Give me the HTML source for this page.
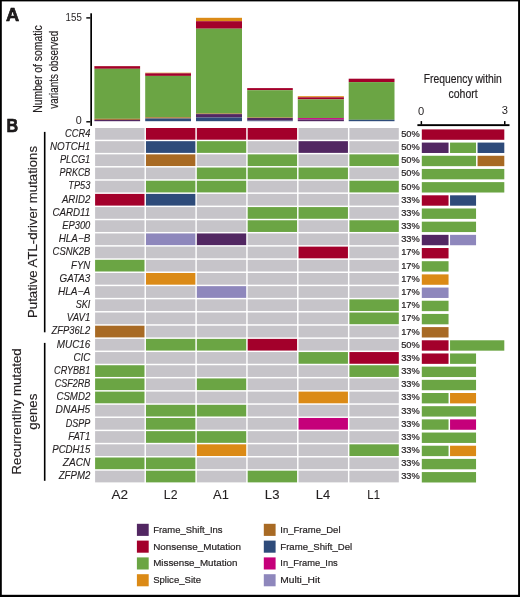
<!DOCTYPE html><html><head><meta charset="utf-8"><style>html,body{margin:0;padding:0;background:#fff;}svg{display:block;will-change:transform;}text{font-family:"Liberation Sans",sans-serif;fill:#231f20;}</style></head><body>
<svg width="520" height="597" viewBox="0 0 520 597">
<rect x="0" y="0" width="520" height="597" fill="#fff"/>
<text x="5.90" y="20.60" font-size="18.4" textLength="13.20" lengthAdjust="spacingAndGlyphs" font-weight="bold" fill="#000" stroke="#000" stroke-width="0.6">A</text>
<text x="6.50" y="131.60" font-size="18.4" textLength="11.60" lengthAdjust="spacingAndGlyphs" font-weight="bold" fill="#000" stroke="#000" stroke-width="0.6">B</text>
<rect x="90.30" y="13.30" width="1.70" height="112.60" fill="#000"/>
<rect x="86.30" y="17.20" width="4.00" height="1.40" fill="#000"/>
<rect x="86.30" y="121.10" width="4.00" height="1.40" fill="#000"/>
<text x="65.60" y="21.00" font-size="10.5" textLength="16.20" lengthAdjust="spacingAndGlyphs" >155</text>
<text x="75.70" y="124.40" font-size="10.5" textLength="6.00" lengthAdjust="spacingAndGlyphs" >0</text>
<g transform="translate(42.1,69) rotate(-90)">
<text x="-43.70" y="0.00" font-size="12.6" textLength="87.40" lengthAdjust="spacingAndGlyphs" stroke="#231f20" stroke-width="0.2">Number of somatic</text>
</g>
<g transform="translate(58.0,69.85) rotate(-90)">
<text x="-38.90" y="0.00" font-size="12.6" textLength="77.90" lengthAdjust="spacingAndGlyphs" stroke="#231f20" stroke-width="0.2">variants observed</text>
</g>
<rect x="94.40" y="66.00" width="45.70" height="0.30" fill="#db8a16"/>
<rect x="94.40" y="66.20" width="45.70" height="2.60" fill="#a3002b"/>
<rect x="94.40" y="68.80" width="45.70" height="50.00" fill="#6ba544"/>
<rect x="94.40" y="118.80" width="45.70" height="1.10" fill="#a86a24"/>
<rect x="94.40" y="119.90" width="45.70" height="1.30" fill="#522762"/>
<rect x="145.20" y="72.70" width="45.80" height="0.60" fill="#db8a16"/>
<rect x="145.20" y="73.30" width="45.80" height="2.60" fill="#a3002b"/>
<rect x="145.20" y="75.90" width="45.80" height="41.40" fill="#6ba544"/>
<rect x="145.20" y="117.30" width="45.80" height="1.20" fill="#a86a24"/>
<rect x="145.20" y="118.50" width="45.80" height="2.70" fill="#2e4b7a"/>
<rect x="196.00" y="17.80" width="46.00" height="3.40" fill="#db8a16"/>
<rect x="196.00" y="21.20" width="46.00" height="7.50" fill="#a3002b"/>
<rect x="196.00" y="28.70" width="46.00" height="84.80" fill="#6ba544"/>
<rect x="196.00" y="113.50" width="46.00" height="0.60" fill="#a86a24"/>
<rect x="196.00" y="114.10" width="46.00" height="3.40" fill="#522762"/>
<rect x="196.00" y="117.50" width="46.00" height="3.70" fill="#2e4b7a"/>
<rect x="247.20" y="88.10" width="45.60" height="2.10" fill="#a3002b"/>
<rect x="247.20" y="90.20" width="45.60" height="27.30" fill="#6ba544"/>
<rect x="247.20" y="117.50" width="45.60" height="0.50" fill="#a86a24"/>
<rect x="247.20" y="118.00" width="45.60" height="2.60" fill="#522762"/>
<rect x="247.20" y="120.60" width="45.60" height="0.60" fill="#2e4b7a"/>
<rect x="297.80" y="96.20" width="46.10" height="1.10" fill="#db8a16"/>
<rect x="297.80" y="97.30" width="46.10" height="2.10" fill="#a3002b"/>
<rect x="297.80" y="99.40" width="46.10" height="18.70" fill="#6ba544"/>
<rect x="297.80" y="118.10" width="46.10" height="1.40" fill="#c5007a"/>
<rect x="297.80" y="119.50" width="46.10" height="1.70" fill="#522762"/>
<rect x="348.70" y="78.70" width="45.80" height="3.40" fill="#a3002b"/>
<rect x="348.70" y="82.10" width="45.80" height="37.70" fill="#6ba544"/>
<rect x="348.70" y="119.80" width="45.80" height="1.40" fill="#2e4b7a"/>
<text x="423.80" y="82.80" font-size="12.6" textLength="78.00" lengthAdjust="spacingAndGlyphs" stroke="#231f20" stroke-width="0.2">Frequency within</text>
<text x="448.50" y="98.10" font-size="12.6" textLength="29.20" lengthAdjust="spacingAndGlyphs" stroke="#231f20" stroke-width="0.2">cohort</text>
<text x="418.00" y="114.60" font-size="10.0" textLength="6.20" lengthAdjust="spacingAndGlyphs" >0</text>
<text x="501.80" y="114.10" font-size="10.0" textLength="6.20" lengthAdjust="spacingAndGlyphs" >3</text>
<rect x="417.40" y="124.20" width="92.10" height="1.90" fill="#000"/>
<rect x="420.60" y="121.10" width="1.50" height="3.50" fill="#000"/>
<rect x="504.00" y="121.10" width="1.50" height="3.50" fill="#000"/>
<rect x="43.90" y="131.90" width="1.60" height="200.40" fill="#000"/>
<rect x="43.90" y="342.90" width="1.60" height="137.90" fill="#000"/>
<g transform="translate(37.4,232.0) rotate(-90)">
<text x="-86.00" y="0.00" font-size="13.6" textLength="172.00" lengthAdjust="spacingAndGlyphs" stroke="#231f20" stroke-width="0.15">Putative ATL-driver mutations</text>
</g>
<g transform="translate(21.4,411.4) rotate(-90)">
<text x="-63.00" y="0.00" font-size="13.6" textLength="126.00" lengthAdjust="spacingAndGlyphs" stroke="#231f20" stroke-width="0.15">Recurrentlhy mutated</text>
</g>
<g transform="translate(37.3,411.7) rotate(-90)">
<text x="-18.00" y="0.00" font-size="13.6" textLength="36.00" lengthAdjust="spacingAndGlyphs" stroke="#231f20" stroke-width="0.15">genes</text>
</g>
<rect x="95.10" y="128.00" width="49.40" height="11.70" fill="#c6c4c9"/>
<rect x="145.96" y="128.00" width="49.40" height="11.70" fill="#a3002b"/>
<rect x="196.82" y="128.00" width="49.40" height="11.70" fill="#a3002b"/>
<rect x="247.68" y="128.00" width="49.40" height="11.70" fill="#a3002b"/>
<rect x="298.54" y="128.00" width="49.40" height="11.70" fill="#c6c4c9"/>
<rect x="349.40" y="128.00" width="49.40" height="11.70" fill="#c6c4c9"/>
<text x="65.10" y="136.70" font-size="10.3" textLength="25.20" lengthAdjust="spacingAndGlyphs" font-style="italic" stroke="#231f20" stroke-width="0.12">CCR4</text>
<text x="401.20" y="136.80" font-size="9.4" textLength="18.60" lengthAdjust="spacingAndGlyphs" stroke="#231f20" stroke-width="0.22">50%</text>
<rect x="421.80" y="129.40" width="82.50" height="10.40" fill="#a3002b"/>
<rect x="95.10" y="141.18" width="49.40" height="11.70" fill="#c6c4c9"/>
<rect x="145.96" y="141.18" width="49.40" height="11.70" fill="#2e4b7a"/>
<rect x="196.82" y="141.18" width="49.40" height="11.70" fill="#6ba544"/>
<rect x="247.68" y="141.18" width="49.40" height="11.70" fill="#c6c4c9"/>
<rect x="298.54" y="141.18" width="49.40" height="11.70" fill="#522762"/>
<rect x="349.40" y="141.18" width="49.40" height="11.70" fill="#c6c4c9"/>
<text x="49.90" y="149.88" font-size="10.3" textLength="40.40" lengthAdjust="spacingAndGlyphs" font-style="italic" stroke="#231f20" stroke-width="0.12">NOTCH1</text>
<text x="401.20" y="149.98" font-size="9.4" textLength="18.60" lengthAdjust="spacingAndGlyphs" stroke="#231f20" stroke-width="0.22">50%</text>
<rect x="421.80" y="142.58" width="26.75" height="10.40" fill="#522762"/>
<rect x="450.05" y="142.58" width="26.00" height="10.40" fill="#6ba544"/>
<rect x="477.55" y="142.58" width="26.75" height="10.40" fill="#2e4b7a"/>
<rect x="95.10" y="154.36" width="49.40" height="11.70" fill="#c6c4c9"/>
<rect x="145.96" y="154.36" width="49.40" height="11.70" fill="#a86a24"/>
<rect x="196.82" y="154.36" width="49.40" height="11.70" fill="#c6c4c9"/>
<rect x="247.68" y="154.36" width="49.40" height="11.70" fill="#6ba544"/>
<rect x="298.54" y="154.36" width="49.40" height="11.70" fill="#c6c4c9"/>
<rect x="349.40" y="154.36" width="49.40" height="11.70" fill="#6ba544"/>
<text x="59.90" y="163.06" font-size="10.3" textLength="30.40" lengthAdjust="spacingAndGlyphs" font-style="italic" stroke="#231f20" stroke-width="0.12">PLCG1</text>
<text x="401.20" y="163.16" font-size="9.4" textLength="18.60" lengthAdjust="spacingAndGlyphs" stroke="#231f20" stroke-width="0.22">50%</text>
<rect x="421.80" y="155.76" width="54.25" height="10.40" fill="#6ba544"/>
<rect x="477.55" y="155.76" width="26.75" height="10.40" fill="#a86a24"/>
<rect x="95.10" y="167.54" width="49.40" height="11.70" fill="#c6c4c9"/>
<rect x="145.96" y="167.54" width="49.40" height="11.70" fill="#c6c4c9"/>
<rect x="196.82" y="167.54" width="49.40" height="11.70" fill="#6ba544"/>
<rect x="247.68" y="167.54" width="49.40" height="11.70" fill="#6ba544"/>
<rect x="298.54" y="167.54" width="49.40" height="11.70" fill="#6ba544"/>
<rect x="349.40" y="167.54" width="49.40" height="11.70" fill="#c6c4c9"/>
<text x="59.50" y="176.24" font-size="10.3" textLength="30.80" lengthAdjust="spacingAndGlyphs" font-style="italic" stroke="#231f20" stroke-width="0.12">PRKCB</text>
<text x="401.20" y="176.34" font-size="9.4" textLength="18.60" lengthAdjust="spacingAndGlyphs" stroke="#231f20" stroke-width="0.22">50%</text>
<rect x="421.80" y="168.94" width="82.50" height="10.40" fill="#6ba544"/>
<rect x="95.10" y="180.72" width="49.40" height="11.70" fill="#c6c4c9"/>
<rect x="145.96" y="180.72" width="49.40" height="11.70" fill="#6ba544"/>
<rect x="196.82" y="180.72" width="49.40" height="11.70" fill="#6ba544"/>
<rect x="247.68" y="180.72" width="49.40" height="11.70" fill="#c6c4c9"/>
<rect x="298.54" y="180.72" width="49.40" height="11.70" fill="#c6c4c9"/>
<rect x="349.40" y="180.72" width="49.40" height="11.70" fill="#6ba544"/>
<text x="68.30" y="189.42" font-size="10.3" textLength="22.00" lengthAdjust="spacingAndGlyphs" font-style="italic" stroke="#231f20" stroke-width="0.12">TP53</text>
<text x="401.20" y="189.52" font-size="9.4" textLength="18.60" lengthAdjust="spacingAndGlyphs" stroke="#231f20" stroke-width="0.22">50%</text>
<rect x="421.80" y="182.12" width="82.50" height="10.40" fill="#6ba544"/>
<rect x="95.10" y="193.90" width="49.40" height="11.70" fill="#a3002b"/>
<rect x="145.96" y="193.90" width="49.40" height="11.70" fill="#2e4b7a"/>
<rect x="196.82" y="193.90" width="49.40" height="11.70" fill="#c6c4c9"/>
<rect x="247.68" y="193.90" width="49.40" height="11.70" fill="#c6c4c9"/>
<rect x="298.54" y="193.90" width="49.40" height="11.70" fill="#c6c4c9"/>
<rect x="349.40" y="193.90" width="49.40" height="11.70" fill="#c6c4c9"/>
<text x="61.90" y="202.60" font-size="10.3" textLength="28.40" lengthAdjust="spacingAndGlyphs" font-style="italic" stroke="#231f20" stroke-width="0.12">ARID2</text>
<text x="401.20" y="202.70" font-size="9.4" textLength="18.60" lengthAdjust="spacingAndGlyphs" stroke="#231f20" stroke-width="0.22">33%</text>
<rect x="421.80" y="195.30" width="26.75" height="10.40" fill="#a3002b"/>
<rect x="450.05" y="195.30" width="26.00" height="10.40" fill="#2e4b7a"/>
<rect x="95.10" y="207.08" width="49.40" height="11.70" fill="#c6c4c9"/>
<rect x="145.96" y="207.08" width="49.40" height="11.70" fill="#c6c4c9"/>
<rect x="196.82" y="207.08" width="49.40" height="11.70" fill="#c6c4c9"/>
<rect x="247.68" y="207.08" width="49.40" height="11.70" fill="#6ba544"/>
<rect x="298.54" y="207.08" width="49.40" height="11.70" fill="#6ba544"/>
<rect x="349.40" y="207.08" width="49.40" height="11.70" fill="#c6c4c9"/>
<text x="52.40" y="215.78" font-size="10.3" textLength="37.90" lengthAdjust="spacingAndGlyphs" font-style="italic" stroke="#231f20" stroke-width="0.12">CARD11</text>
<text x="401.20" y="215.88" font-size="9.4" textLength="18.60" lengthAdjust="spacingAndGlyphs" stroke="#231f20" stroke-width="0.22">33%</text>
<rect x="421.80" y="208.48" width="54.25" height="10.40" fill="#6ba544"/>
<rect x="95.10" y="220.26" width="49.40" height="11.70" fill="#c6c4c9"/>
<rect x="145.96" y="220.26" width="49.40" height="11.70" fill="#c6c4c9"/>
<rect x="196.82" y="220.26" width="49.40" height="11.70" fill="#c6c4c9"/>
<rect x="247.68" y="220.26" width="49.40" height="11.70" fill="#6ba544"/>
<rect x="298.54" y="220.26" width="49.40" height="11.70" fill="#c6c4c9"/>
<rect x="349.40" y="220.26" width="49.40" height="11.70" fill="#6ba544"/>
<text x="62.20" y="228.96" font-size="10.3" textLength="28.10" lengthAdjust="spacingAndGlyphs" font-style="italic" stroke="#231f20" stroke-width="0.12">EP300</text>
<text x="401.20" y="229.06" font-size="9.4" textLength="18.60" lengthAdjust="spacingAndGlyphs" stroke="#231f20" stroke-width="0.22">33%</text>
<rect x="421.80" y="221.66" width="54.25" height="10.40" fill="#6ba544"/>
<rect x="95.10" y="233.44" width="49.40" height="11.70" fill="#c6c4c9"/>
<rect x="145.96" y="233.44" width="49.40" height="11.70" fill="#8e87bc"/>
<rect x="196.82" y="233.44" width="49.40" height="11.70" fill="#522762"/>
<rect x="247.68" y="233.44" width="49.40" height="11.70" fill="#c6c4c9"/>
<rect x="298.54" y="233.44" width="49.40" height="11.70" fill="#c6c4c9"/>
<rect x="349.40" y="233.44" width="49.40" height="11.70" fill="#c6c4c9"/>
<text x="58.70" y="242.14" font-size="10.3" textLength="31.60" lengthAdjust="spacingAndGlyphs" font-style="italic" stroke="#231f20" stroke-width="0.12">HLA−B</text>
<text x="401.20" y="242.24" font-size="9.4" textLength="18.60" lengthAdjust="spacingAndGlyphs" stroke="#231f20" stroke-width="0.22">33%</text>
<rect x="421.80" y="234.84" width="26.75" height="10.40" fill="#522762"/>
<rect x="450.05" y="234.84" width="26.00" height="10.40" fill="#8e87bc"/>
<rect x="95.10" y="246.62" width="49.40" height="11.70" fill="#c6c4c9"/>
<rect x="145.96" y="246.62" width="49.40" height="11.70" fill="#c6c4c9"/>
<rect x="196.82" y="246.62" width="49.40" height="11.70" fill="#c6c4c9"/>
<rect x="247.68" y="246.62" width="49.40" height="11.70" fill="#c6c4c9"/>
<rect x="298.54" y="246.62" width="49.40" height="11.70" fill="#a3002b"/>
<rect x="349.40" y="246.62" width="49.40" height="11.70" fill="#c6c4c9"/>
<text x="52.60" y="255.32" font-size="10.3" textLength="37.70" lengthAdjust="spacingAndGlyphs" font-style="italic" stroke="#231f20" stroke-width="0.12">CSNK2B</text>
<text x="401.20" y="255.42" font-size="9.4" textLength="18.60" lengthAdjust="spacingAndGlyphs" stroke="#231f20" stroke-width="0.22">17%</text>
<rect x="421.80" y="248.02" width="26.75" height="10.40" fill="#a3002b"/>
<rect x="95.10" y="259.80" width="49.40" height="11.70" fill="#6ba544"/>
<rect x="145.96" y="259.80" width="49.40" height="11.70" fill="#c6c4c9"/>
<rect x="196.82" y="259.80" width="49.40" height="11.70" fill="#c6c4c9"/>
<rect x="247.68" y="259.80" width="49.40" height="11.70" fill="#c6c4c9"/>
<rect x="298.54" y="259.80" width="49.40" height="11.70" fill="#c6c4c9"/>
<rect x="349.40" y="259.80" width="49.40" height="11.70" fill="#c6c4c9"/>
<text x="71.10" y="268.50" font-size="10.3" textLength="19.20" lengthAdjust="spacingAndGlyphs" font-style="italic" stroke="#231f20" stroke-width="0.12">FYN</text>
<text x="401.20" y="268.60" font-size="9.4" textLength="18.60" lengthAdjust="spacingAndGlyphs" stroke="#231f20" stroke-width="0.22">17%</text>
<rect x="421.80" y="261.20" width="26.75" height="10.40" fill="#6ba544"/>
<rect x="95.10" y="272.98" width="49.40" height="11.70" fill="#c6c4c9"/>
<rect x="145.96" y="272.98" width="49.40" height="11.70" fill="#db8a16"/>
<rect x="196.82" y="272.98" width="49.40" height="11.70" fill="#c6c4c9"/>
<rect x="247.68" y="272.98" width="49.40" height="11.70" fill="#c6c4c9"/>
<rect x="298.54" y="272.98" width="49.40" height="11.70" fill="#c6c4c9"/>
<rect x="349.40" y="272.98" width="49.40" height="11.70" fill="#c6c4c9"/>
<text x="59.50" y="281.68" font-size="10.3" textLength="30.80" lengthAdjust="spacingAndGlyphs" font-style="italic" stroke="#231f20" stroke-width="0.12">GATA3</text>
<text x="401.20" y="281.78" font-size="9.4" textLength="18.60" lengthAdjust="spacingAndGlyphs" stroke="#231f20" stroke-width="0.22">17%</text>
<rect x="421.80" y="274.38" width="26.75" height="10.40" fill="#db8a16"/>
<rect x="95.10" y="286.16" width="49.40" height="11.70" fill="#c6c4c9"/>
<rect x="145.96" y="286.16" width="49.40" height="11.70" fill="#c6c4c9"/>
<rect x="196.82" y="286.16" width="49.40" height="11.70" fill="#8e87bc"/>
<rect x="247.68" y="286.16" width="49.40" height="11.70" fill="#c6c4c9"/>
<rect x="298.54" y="286.16" width="49.40" height="11.70" fill="#c6c4c9"/>
<rect x="349.40" y="286.16" width="49.40" height="11.70" fill="#c6c4c9"/>
<text x="57.90" y="294.86" font-size="10.3" textLength="32.40" lengthAdjust="spacingAndGlyphs" font-style="italic" stroke="#231f20" stroke-width="0.12">HLA−A</text>
<text x="401.20" y="294.96" font-size="9.4" textLength="18.60" lengthAdjust="spacingAndGlyphs" stroke="#231f20" stroke-width="0.22">17%</text>
<rect x="421.80" y="287.56" width="26.75" height="10.40" fill="#8e87bc"/>
<rect x="95.10" y="299.34" width="49.40" height="11.70" fill="#c6c4c9"/>
<rect x="145.96" y="299.34" width="49.40" height="11.70" fill="#c6c4c9"/>
<rect x="196.82" y="299.34" width="49.40" height="11.70" fill="#c6c4c9"/>
<rect x="247.68" y="299.34" width="49.40" height="11.70" fill="#c6c4c9"/>
<rect x="298.54" y="299.34" width="49.40" height="11.70" fill="#c6c4c9"/>
<rect x="349.40" y="299.34" width="49.40" height="11.70" fill="#6ba544"/>
<text x="75.70" y="308.04" font-size="10.3" textLength="14.60" lengthAdjust="spacingAndGlyphs" font-style="italic" stroke="#231f20" stroke-width="0.12">SKI</text>
<text x="401.20" y="308.14" font-size="9.4" textLength="18.60" lengthAdjust="spacingAndGlyphs" stroke="#231f20" stroke-width="0.22">17%</text>
<rect x="421.80" y="300.74" width="26.75" height="10.40" fill="#6ba544"/>
<rect x="95.10" y="312.52" width="49.40" height="11.70" fill="#c6c4c9"/>
<rect x="145.96" y="312.52" width="49.40" height="11.70" fill="#c6c4c9"/>
<rect x="196.82" y="312.52" width="49.40" height="11.70" fill="#c6c4c9"/>
<rect x="247.68" y="312.52" width="49.40" height="11.70" fill="#c6c4c9"/>
<rect x="298.54" y="312.52" width="49.40" height="11.70" fill="#c6c4c9"/>
<rect x="349.40" y="312.52" width="49.40" height="11.70" fill="#6ba544"/>
<text x="66.80" y="321.22" font-size="10.3" textLength="23.50" lengthAdjust="spacingAndGlyphs" font-style="italic" stroke="#231f20" stroke-width="0.12">VAV1</text>
<text x="401.20" y="321.32" font-size="9.4" textLength="18.60" lengthAdjust="spacingAndGlyphs" stroke="#231f20" stroke-width="0.22">17%</text>
<rect x="421.80" y="313.92" width="26.75" height="10.40" fill="#6ba544"/>
<rect x="95.10" y="325.70" width="49.40" height="11.70" fill="#a86a24"/>
<rect x="145.96" y="325.70" width="49.40" height="11.70" fill="#c6c4c9"/>
<rect x="196.82" y="325.70" width="49.40" height="11.70" fill="#c6c4c9"/>
<rect x="247.68" y="325.70" width="49.40" height="11.70" fill="#c6c4c9"/>
<rect x="298.54" y="325.70" width="49.40" height="11.70" fill="#c6c4c9"/>
<rect x="349.40" y="325.70" width="49.40" height="11.70" fill="#c6c4c9"/>
<text x="51.50" y="334.40" font-size="10.3" textLength="38.80" lengthAdjust="spacingAndGlyphs" font-style="italic" stroke="#231f20" stroke-width="0.12">ZFP36L2</text>
<text x="401.20" y="334.50" font-size="9.4" textLength="18.60" lengthAdjust="spacingAndGlyphs" stroke="#231f20" stroke-width="0.22">17%</text>
<rect x="421.80" y="327.10" width="26.75" height="10.40" fill="#a86a24"/>
<rect x="95.10" y="338.88" width="49.40" height="11.70" fill="#c6c4c9"/>
<rect x="145.96" y="338.88" width="49.40" height="11.70" fill="#6ba544"/>
<rect x="196.82" y="338.88" width="49.40" height="11.70" fill="#6ba544"/>
<rect x="247.68" y="338.88" width="49.40" height="11.70" fill="#a3002b"/>
<rect x="298.54" y="338.88" width="49.40" height="11.70" fill="#c6c4c9"/>
<rect x="349.40" y="338.88" width="49.40" height="11.70" fill="#c6c4c9"/>
<text x="56.80" y="347.58" font-size="10.3" textLength="33.50" lengthAdjust="spacingAndGlyphs" font-style="italic" stroke="#231f20" stroke-width="0.12">MUC16</text>
<text x="401.20" y="347.68" font-size="9.4" textLength="18.60" lengthAdjust="spacingAndGlyphs" stroke="#231f20" stroke-width="0.22">50%</text>
<rect x="421.80" y="340.28" width="26.75" height="10.40" fill="#a3002b"/>
<rect x="450.05" y="340.28" width="54.25" height="10.40" fill="#6ba544"/>
<rect x="95.10" y="352.06" width="49.40" height="11.70" fill="#c6c4c9"/>
<rect x="145.96" y="352.06" width="49.40" height="11.70" fill="#c6c4c9"/>
<rect x="196.82" y="352.06" width="49.40" height="11.70" fill="#c6c4c9"/>
<rect x="247.68" y="352.06" width="49.40" height="11.70" fill="#c6c4c9"/>
<rect x="298.54" y="352.06" width="49.40" height="11.70" fill="#6ba544"/>
<rect x="349.40" y="352.06" width="49.40" height="11.70" fill="#a3002b"/>
<text x="73.40" y="360.76" font-size="10.3" textLength="16.90" lengthAdjust="spacingAndGlyphs" font-style="italic" stroke="#231f20" stroke-width="0.12">CIC</text>
<text x="401.20" y="360.86" font-size="9.4" textLength="18.60" lengthAdjust="spacingAndGlyphs" stroke="#231f20" stroke-width="0.22">33%</text>
<rect x="421.80" y="353.46" width="26.75" height="10.40" fill="#a3002b"/>
<rect x="450.05" y="353.46" width="26.00" height="10.40" fill="#6ba544"/>
<rect x="95.10" y="365.24" width="49.40" height="11.70" fill="#6ba544"/>
<rect x="145.96" y="365.24" width="49.40" height="11.70" fill="#c6c4c9"/>
<rect x="196.82" y="365.24" width="49.40" height="11.70" fill="#c6c4c9"/>
<rect x="247.68" y="365.24" width="49.40" height="11.70" fill="#c6c4c9"/>
<rect x="298.54" y="365.24" width="49.40" height="11.70" fill="#c6c4c9"/>
<rect x="349.40" y="365.24" width="49.40" height="11.70" fill="#6ba544"/>
<text x="54.10" y="373.94" font-size="10.3" textLength="36.20" lengthAdjust="spacingAndGlyphs" font-style="italic" stroke="#231f20" stroke-width="0.12">CRYBB1</text>
<text x="401.20" y="374.04" font-size="9.4" textLength="18.60" lengthAdjust="spacingAndGlyphs" stroke="#231f20" stroke-width="0.22">33%</text>
<rect x="421.80" y="366.64" width="54.25" height="10.40" fill="#6ba544"/>
<rect x="95.10" y="378.42" width="49.40" height="11.70" fill="#6ba544"/>
<rect x="145.96" y="378.42" width="49.40" height="11.70" fill="#c6c4c9"/>
<rect x="196.82" y="378.42" width="49.40" height="11.70" fill="#6ba544"/>
<rect x="247.68" y="378.42" width="49.40" height="11.70" fill="#c6c4c9"/>
<rect x="298.54" y="378.42" width="49.40" height="11.70" fill="#c6c4c9"/>
<rect x="349.40" y="378.42" width="49.40" height="11.70" fill="#c6c4c9"/>
<text x="54.70" y="387.12" font-size="10.3" textLength="35.60" lengthAdjust="spacingAndGlyphs" font-style="italic" stroke="#231f20" stroke-width="0.12">CSF2RB</text>
<text x="401.20" y="387.22" font-size="9.4" textLength="18.60" lengthAdjust="spacingAndGlyphs" stroke="#231f20" stroke-width="0.22">33%</text>
<rect x="421.80" y="379.82" width="54.25" height="10.40" fill="#6ba544"/>
<rect x="95.10" y="391.60" width="49.40" height="11.70" fill="#6ba544"/>
<rect x="145.96" y="391.60" width="49.40" height="11.70" fill="#c6c4c9"/>
<rect x="196.82" y="391.60" width="49.40" height="11.70" fill="#c6c4c9"/>
<rect x="247.68" y="391.60" width="49.40" height="11.70" fill="#c6c4c9"/>
<rect x="298.54" y="391.60" width="49.40" height="11.70" fill="#db8a16"/>
<rect x="349.40" y="391.60" width="49.40" height="11.70" fill="#c6c4c9"/>
<text x="56.40" y="400.30" font-size="10.3" textLength="33.90" lengthAdjust="spacingAndGlyphs" font-style="italic" stroke="#231f20" stroke-width="0.12">CSMD2</text>
<text x="401.20" y="400.40" font-size="9.4" textLength="18.60" lengthAdjust="spacingAndGlyphs" stroke="#231f20" stroke-width="0.22">33%</text>
<rect x="421.80" y="393.00" width="26.75" height="10.40" fill="#6ba544"/>
<rect x="450.05" y="393.00" width="26.00" height="10.40" fill="#db8a16"/>
<rect x="95.10" y="404.78" width="49.40" height="11.70" fill="#c6c4c9"/>
<rect x="145.96" y="404.78" width="49.40" height="11.70" fill="#6ba544"/>
<rect x="196.82" y="404.78" width="49.40" height="11.70" fill="#6ba544"/>
<rect x="247.68" y="404.78" width="49.40" height="11.70" fill="#c6c4c9"/>
<rect x="298.54" y="404.78" width="49.40" height="11.70" fill="#c6c4c9"/>
<rect x="349.40" y="404.78" width="49.40" height="11.70" fill="#c6c4c9"/>
<text x="55.60" y="413.48" font-size="10.3" textLength="34.70" lengthAdjust="spacingAndGlyphs" font-style="italic" stroke="#231f20" stroke-width="0.12">DNAH5</text>
<text x="401.20" y="413.58" font-size="9.4" textLength="18.60" lengthAdjust="spacingAndGlyphs" stroke="#231f20" stroke-width="0.22">33%</text>
<rect x="421.80" y="406.18" width="54.25" height="10.40" fill="#6ba544"/>
<rect x="95.10" y="417.96" width="49.40" height="11.70" fill="#c6c4c9"/>
<rect x="145.96" y="417.96" width="49.40" height="11.70" fill="#6ba544"/>
<rect x="196.82" y="417.96" width="49.40" height="11.70" fill="#c6c4c9"/>
<rect x="247.68" y="417.96" width="49.40" height="11.70" fill="#c6c4c9"/>
<rect x="298.54" y="417.96" width="49.40" height="11.70" fill="#c5007a"/>
<rect x="349.40" y="417.96" width="49.40" height="11.70" fill="#c6c4c9"/>
<text x="65.70" y="426.66" font-size="10.3" textLength="24.60" lengthAdjust="spacingAndGlyphs" font-style="italic" stroke="#231f20" stroke-width="0.12">DSPP</text>
<text x="401.20" y="426.76" font-size="9.4" textLength="18.60" lengthAdjust="spacingAndGlyphs" stroke="#231f20" stroke-width="0.22">33%</text>
<rect x="421.80" y="419.36" width="26.75" height="10.40" fill="#6ba544"/>
<rect x="450.05" y="419.36" width="26.00" height="10.40" fill="#c5007a"/>
<rect x="95.10" y="431.14" width="49.40" height="11.70" fill="#c6c4c9"/>
<rect x="145.96" y="431.14" width="49.40" height="11.70" fill="#6ba544"/>
<rect x="196.82" y="431.14" width="49.40" height="11.70" fill="#6ba544"/>
<rect x="247.68" y="431.14" width="49.40" height="11.70" fill="#c6c4c9"/>
<rect x="298.54" y="431.14" width="49.40" height="11.70" fill="#c6c4c9"/>
<rect x="349.40" y="431.14" width="49.40" height="11.70" fill="#c6c4c9"/>
<text x="68.30" y="439.84" font-size="10.3" textLength="22.00" lengthAdjust="spacingAndGlyphs" font-style="italic" stroke="#231f20" stroke-width="0.12">FAT1</text>
<text x="401.20" y="439.94" font-size="9.4" textLength="18.60" lengthAdjust="spacingAndGlyphs" stroke="#231f20" stroke-width="0.22">33%</text>
<rect x="421.80" y="432.54" width="54.25" height="10.40" fill="#6ba544"/>
<rect x="95.10" y="444.32" width="49.40" height="11.70" fill="#c6c4c9"/>
<rect x="145.96" y="444.32" width="49.40" height="11.70" fill="#c6c4c9"/>
<rect x="196.82" y="444.32" width="49.40" height="11.70" fill="#db8a16"/>
<rect x="247.68" y="444.32" width="49.40" height="11.70" fill="#c6c4c9"/>
<rect x="298.54" y="444.32" width="49.40" height="11.70" fill="#c6c4c9"/>
<rect x="349.40" y="444.32" width="49.40" height="11.70" fill="#6ba544"/>
<text x="52.20" y="453.02" font-size="10.3" textLength="38.10" lengthAdjust="spacingAndGlyphs" font-style="italic" stroke="#231f20" stroke-width="0.12">PCDH15</text>
<text x="401.20" y="453.12" font-size="9.4" textLength="18.60" lengthAdjust="spacingAndGlyphs" stroke="#231f20" stroke-width="0.22">33%</text>
<rect x="421.80" y="445.72" width="26.75" height="10.40" fill="#6ba544"/>
<rect x="450.05" y="445.72" width="26.00" height="10.40" fill="#db8a16"/>
<rect x="95.10" y="457.50" width="49.40" height="11.70" fill="#6ba544"/>
<rect x="145.96" y="457.50" width="49.40" height="11.70" fill="#6ba544"/>
<rect x="196.82" y="457.50" width="49.40" height="11.70" fill="#c6c4c9"/>
<rect x="247.68" y="457.50" width="49.40" height="11.70" fill="#c6c4c9"/>
<rect x="298.54" y="457.50" width="49.40" height="11.70" fill="#c6c4c9"/>
<rect x="349.40" y="457.50" width="49.40" height="11.70" fill="#c6c4c9"/>
<text x="62.80" y="466.20" font-size="10.3" textLength="27.50" lengthAdjust="spacingAndGlyphs" font-style="italic" stroke="#231f20" stroke-width="0.12">ZACN</text>
<text x="401.20" y="466.30" font-size="9.4" textLength="18.60" lengthAdjust="spacingAndGlyphs" stroke="#231f20" stroke-width="0.22">33%</text>
<rect x="421.80" y="458.90" width="54.25" height="10.40" fill="#6ba544"/>
<rect x="95.10" y="470.68" width="49.40" height="11.70" fill="#c6c4c9"/>
<rect x="145.96" y="470.68" width="49.40" height="11.70" fill="#6ba544"/>
<rect x="196.82" y="470.68" width="49.40" height="11.70" fill="#c6c4c9"/>
<rect x="247.68" y="470.68" width="49.40" height="11.70" fill="#6ba544"/>
<rect x="298.54" y="470.68" width="49.40" height="11.70" fill="#c6c4c9"/>
<rect x="349.40" y="470.68" width="49.40" height="11.70" fill="#c6c4c9"/>
<text x="58.70" y="479.38" font-size="10.3" textLength="31.60" lengthAdjust="spacingAndGlyphs" font-style="italic" stroke="#231f20" stroke-width="0.12">ZFPM2</text>
<text x="401.20" y="479.48" font-size="9.4" textLength="18.60" lengthAdjust="spacingAndGlyphs" stroke="#231f20" stroke-width="0.22">33%</text>
<rect x="421.80" y="472.08" width="54.25" height="10.40" fill="#6ba544"/>
<text x="111.55" y="498.80" font-size="13.6" textLength="16.60" lengthAdjust="spacingAndGlyphs" stroke="#231f20" stroke-width="0.1">A2</text>
<text x="163.85" y="498.80" font-size="13.6" textLength="13.60" lengthAdjust="spacingAndGlyphs" stroke="#231f20" stroke-width="0.1">L2</text>
<text x="213.10" y="498.80" font-size="13.6" textLength="15.80" lengthAdjust="spacingAndGlyphs" stroke="#231f20" stroke-width="0.1">A1</text>
<text x="264.85" y="498.80" font-size="13.6" textLength="14.60" lengthAdjust="spacingAndGlyphs" stroke="#231f20" stroke-width="0.1">L3</text>
<text x="315.70" y="498.80" font-size="13.6" textLength="14.40" lengthAdjust="spacingAndGlyphs" stroke="#231f20" stroke-width="0.1">L4</text>
<text x="367.35" y="498.80" font-size="13.6" textLength="12.60" lengthAdjust="spacingAndGlyphs" stroke="#231f20" stroke-width="0.1">L1</text>
<rect x="136.90" y="523.80" width="11.80" height="12.10" fill="#522762"/>
<text x="153.20" y="532.80" font-size="9.7" textLength="69.30" lengthAdjust="spacingAndGlyphs" stroke="#231f20" stroke-width="0.2">Frame_Shift_Ins</text>
<rect x="136.90" y="540.60" width="11.80" height="12.10" fill="#a3002b"/>
<text x="153.20" y="549.60" font-size="9.7" textLength="87.90" lengthAdjust="spacingAndGlyphs" stroke="#231f20" stroke-width="0.2">Nonsense_Mutation</text>
<rect x="136.90" y="557.40" width="11.80" height="12.10" fill="#6ba544"/>
<text x="153.20" y="566.40" font-size="9.7" textLength="84.30" lengthAdjust="spacingAndGlyphs" stroke="#231f20" stroke-width="0.2">Missense_Mutation</text>
<rect x="136.90" y="574.20" width="11.80" height="12.10" fill="#db8a16"/>
<text x="153.20" y="583.20" font-size="9.7" textLength="47.80" lengthAdjust="spacingAndGlyphs" stroke="#231f20" stroke-width="0.2">Splice_Site</text>
<rect x="263.80" y="523.80" width="11.80" height="12.10" fill="#a86a24"/>
<text x="280.30" y="532.80" font-size="9.7" textLength="60.20" lengthAdjust="spacingAndGlyphs" stroke="#231f20" stroke-width="0.2">In_Frame_Del</text>
<rect x="263.80" y="540.60" width="11.80" height="12.10" fill="#2e4b7a"/>
<text x="280.30" y="549.60" font-size="9.7" textLength="71.90" lengthAdjust="spacingAndGlyphs" stroke="#231f20" stroke-width="0.2">Frame_Shift_Del</text>
<rect x="263.80" y="557.40" width="11.80" height="12.10" fill="#c5007a"/>
<text x="280.30" y="566.40" font-size="9.7" textLength="57.50" lengthAdjust="spacingAndGlyphs" stroke="#231f20" stroke-width="0.2">In_Frame_Ins</text>
<rect x="263.80" y="574.20" width="11.80" height="12.10" fill="#8e87bc"/>
<text x="280.30" y="583.20" font-size="9.7" textLength="39.80" lengthAdjust="spacingAndGlyphs" stroke="#231f20" stroke-width="0.2">Multi_Hit</text>
<rect x="0.00" y="0.00" width="520.00" height="1.40" fill="#000"/>
<rect x="0.00" y="0.00" width="1.80" height="597.00" fill="#000"/>
<rect x="518.10" y="0.00" width="1.90" height="597.00" fill="#000"/>
<rect x="0.00" y="594.80" width="520.00" height="2.20" fill="#000"/>
</svg></body></html>
